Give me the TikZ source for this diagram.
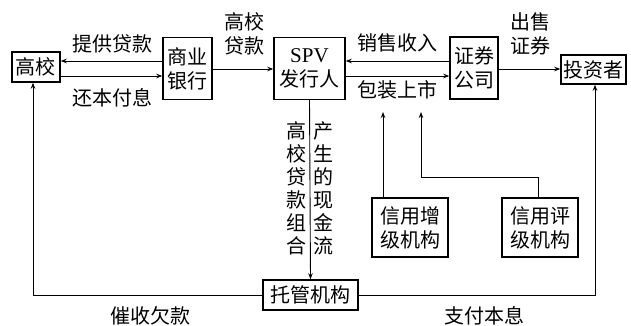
\documentclass[tikz,border=0pt]{standalone}
\usepackage{fontspec}
\newfontfamily\cjk{Noto Sans CJK SC}
\usetikzlibrary{arrows.meta}
\begin{document}
\begin{tikzpicture}[x=1pt,y=-1pt,
  every node/.style={font=\cjk\fontsize{20}{24}\selectfont},
  box/.style={draw,line width=1.5pt,inner sep=0pt,align=center},
  lbl/.style={inner sep=0pt,align=center},
  col/.style={inner sep=0pt,align=center,font=\cjk\fontsize{20}{23}\selectfont},
  arr/.style={line width=0.9pt,-{Stealth[length=6pt,width=4.5pt]}},
  ln/.style={line width=0.9pt}]
\useasboundingbox (0,0) rectangle (631,326);
\node[box,minimum width=48pt,minimum height=30pt] (gx) at (36,67) {高校};
\node[box,minimum width=49pt,minimum height=62pt] (bank) at (187.5,68.5) {商业\\银行};
\node[box,minimum width=71pt,minimum height=62pt] (spv) at (309.5,68.5) {{\fontspec{Liberation Serif}\fontsize{21}{24}\selectfont SPV}\\发行人};
\node[box,minimum width=48pt,minimum height=62pt] (sec) at (474,68) {证券\\公司};
\node[box,minimum width=65pt,minimum height=29pt] (inv) at (593.5,69.5) {投资者};
\node[box,minimum width=76pt,minimum height=59pt] (zeng) at (410,227.5) {信用增\\级机构};
\node[box,minimum width=76pt,minimum height=59pt] (ping) at (540,227.5) {信用评\\级机构};
\node[box,minimum width=95pt,minimum height=30pt] (tg) at (310.5,295) {托管机构};
% labels
\node[lbl] (l1) at (112,44) {提供贷款};
\node[lbl] (l2) at (112,98) {还本付息};
\node[lbl] (l3) at (244,34) {高校\\贷款};
\node[lbl] (l4) at (397,43) {销售收入};
\node[lbl] (l5) at (397,90) {包装上市};
\node[lbl] (l6) at (530,34) {出售\\证券};
\node[col] (l7) at (296,188) {高\\校\\贷\\款\\组\\合};
\node[col] (l8) at (323,188) {产\\生\\的\\现\\金\\流};
\node[lbl] (l9) at (150,316) {催收欠款};
\node[lbl] (l10) at (484,316) {支付本息};
% coordinates
\coordinate (zt) at (383,112);
\coordinate (pt) at (421,112);
\coordinate (pc) at (538,177);
% connectors
\draw[arr] (bank.west |- 0,61) -- (gx.east |- 0,61);
\draw[arr] (gx.east |- 0,76) -- (bank.west |- 0,76);
\draw[arr] (bank.east |- 0,69) -- (spv.west |- 0,69);
\draw[arr] (sec.west |- 0,61) -- (spv.east |- 0,61);
\draw[arr] (spv.east |- 0,76) -- (sec.west |- 0,76);
\draw[arr] (sec.east |- 0,69) -- (inv.west |- 0,69);
\draw[arr] (spv.south) -- (tg.north);
\draw[arr] (tg.west) -| ([xshift=-3pt]gx.south);
\draw[arr] (tg.east) -| ([xshift=1.5pt]inv.south);
\draw[arr] (zeng.north -| zt) -- (zt);
\draw[arr] (ping.north -| pc) -- (pc) -| (pt);
\end{tikzpicture}
\end{document}
